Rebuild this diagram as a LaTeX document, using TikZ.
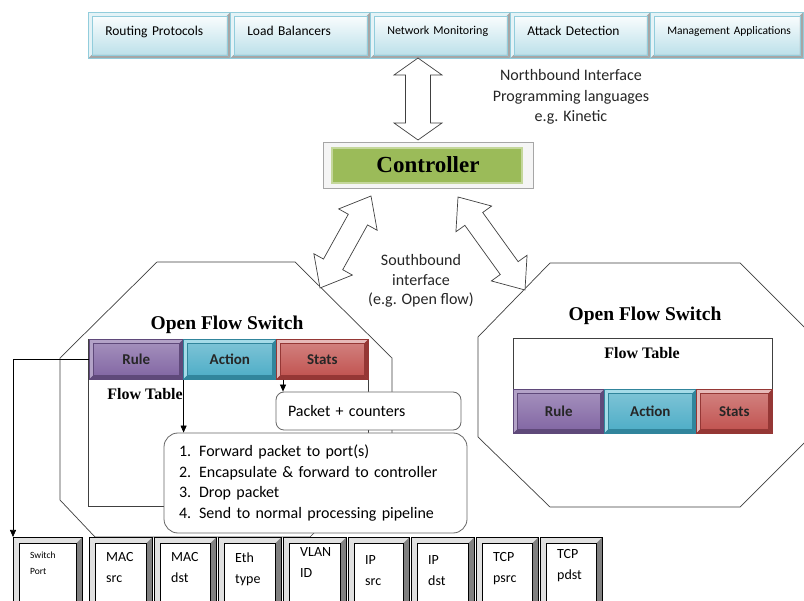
\documentclass[tikz,border=0pt]{standalone}
\usepackage{fontspec}
\setmainfont{Carlito}
\newfontfamily\tnr{Liberation Serif}
\usetikzlibrary{calc,arrows.meta}
\definecolor{rulec}{HTML}{8064A2}
\definecolor{rulel}{HTML}{B3A2C7}
\definecolor{ruled}{HTML}{5F497A}
\definecolor{actc}{HTML}{4BACC6}
\definecolor{actl}{HTML}{A5DBE8}
\definecolor{actd}{HTML}{31859C}
\definecolor{statc}{HTML}{C0504D}
\definecolor{statl}{HTML}{E6B9B8}
\definecolor{statd}{HTML}{953735}
\definecolor{tbb}{HTML}{B7DEE8}
\definecolor{tbd}{HTML}{92CDDC}
\definecolor{tbl}{HTML}{E4F3F7}
\definecolor{tbk}{HTML}{A6A6A6}
\definecolor{ctrl}{HTML}{9BBB59}
\definecolor{ctrll}{HTML}{C4D79B}
\definecolor{linec}{HTML}{404040}
\tikzset{
  bevel/.style n args={4}{path picture={
    \fill[#1] (path picture bounding box.north west) -- (path picture bounding box.north east)
      -- ([shift={(-#3,-#3)}]path picture bounding box.north east)
      -- ([shift={(#3,-#3)}]path picture bounding box.north west) -- cycle;
    \fill[#1] (path picture bounding box.north west) -- ([shift={(#3,-#3)}]path picture bounding box.north west)
      -- ([shift={(#3,#3)}]path picture bounding box.south west) -- (path picture bounding box.south west) -- cycle;
    \fill[#2] (path picture bounding box.south west) -- ([shift={(#3,#3)}]path picture bounding box.south west)
      -- ([shift={(-#3,#3)}]path picture bounding box.south east) -- (path picture bounding box.south east) -- cycle;
    \fill[#2] (path picture bounding box.south east) -- ([shift={(-#3,#3)}]path picture bounding box.south east)
      -- ([shift={(-#3,-#3)}]path picture bounding box.north east) -- (path picture bounding box.north east) -- cycle;
    \draw[#4, line width=0.5pt] ([shift={(#3,-#3)}]path picture bounding box.north west) rectangle ([shift={(-#3,#3)}]path picture bounding box.south east);
  }},
  topbox/.style={draw=tbd, line width=0.6pt, top color=white, bottom color=tbb, bevel={tbl}{tbk}{3.5pt}{tbd},
    minimum height=46pt, align=left, inner sep=0pt, anchor=north west, text depth=9pt, font=\fontsize{13.5}{15}\selectfont},
  cell/.style n args={3}{draw=#3, line width=0.6pt, top color=#1!70!white, bottom color=#1, bevel={#2}{#3}{4pt}{#3},
    inner sep=0pt, anchor=north west, font=\fontsize{15}{18}\selectfont\bfseries, text=black!85},
  key/.style={draw=black, line width=0.6pt, fill=white, bevel={black!12}{black!50}{6pt}{black},
    anchor=north west, inner sep=0pt, minimum height=80pt},
  keytext/.style={anchor=north west, align=left, inner sep=0pt, xshift=17pt, font=\fontsize{14}{21}\selectfont},
  ctrlbox/.style={draw=black!35, fill=black!4, line width=0.6pt, inner sep=0pt,
    font=\tnr\bfseries\fontsize{23}{26}\selectfont,
    path picture={\fill[ctrl, draw=ctrll, line width=1.5pt] ([shift={(9pt,-6pt)}]path picture bounding box.north west) rectangle ([shift={(-11pt,5pt)}]path picture bounding box.south east);}},
  blockarrow/.style={draw=linec, fill=white, line width=0.7pt, line join=miter},
  octo/.style={draw=linec, line width=0.7pt},
  ftable/.style={draw=linec, line width=0.7pt, anchor=north west, inner sep=0pt},
  rbox/.style={draw=linec!80, fill=white, line width=0.8pt, align=left, inner sep=0pt, font=\fontsize{16}{20.5}\selectfont},
  conn/.style={draw=black, line width=0.7pt, -{Triangle[width=6pt,length=7pt]}},
  lbl/.style={align=center, inner sep=0pt, font=\fontsize{16}{20.5}\selectfont, text=black!85},
  ofs/.style={inner sep=0pt, font=\tnr\bfseries\fontsize{19.5}{22}\selectfont},
  ftl/.style={inner sep=0pt, font=\tnr\bfseries\fontsize{16}{18}\selectfont},
}
\newcommand\dblarrow[5]{%
  \path[blockarrow] (#1)
    -- ($(#1)!#3!(#2)!#4!90:(#2)$) -- ($(#1)!#3!(#2)!#5!90:(#2)$)
    -- ($(#2)!#3!(#1)!#5!-90:(#1)$) -- ($(#2)!#3!(#1)!#4!-90:(#1)$)
    -- (#2)
    -- ($(#2)!#3!(#1)!#4!90:(#1)$) -- ($(#2)!#3!(#1)!#5!90:(#1)$)
    -- ($(#1)!#3!(#2)!#5!-90:(#2)$) -- ($(#1)!#3!(#2)!#4!-90:(#2)$) -- cycle;}
\begin{document}
\begin{tikzpicture}[x=1pt,y=-1pt]
\useasboundingbox (0,0) rectangle (804,601);
\clip (0,0) rectangle (804,601);
\fill[white] (0,0) rectangle (804,601);

% top application boxes
\node[topbox, minimum width=142pt, text width=108pt] (tb1) at (88,12) {Routing Protocols};
\node[topbox, minimum width=140pt, text width=106pt] (tb2) at (230,12) {Load Balancers};
\node[topbox, minimum width=140pt, text width=106pt, font=\fontsize{12}{14}\selectfont] (tb3) at (370,12) {Network Monitoring};
\node[topbox, minimum width=140pt, text width=106pt] (tb4) at (510,12) {Attack Detection};
\node[topbox, minimum width=153pt, text width=119pt, font=\fontsize{11.5}{13}\selectfont] (tb5) at (650,12) {\mbox{Management Applications}};

% controller
\node[ctrlbox, minimum width=210pt, minimum height=46pt] (ctrl) at (428,165) {Controller};

% northbound
\coordinate (nb1) at (418,58);
\coordinate (nb2) at (418,140);
\dblarrow{nb1}{nb2}{17pt}{24pt}{12.5pt}
\node[lbl] (nbt) at (571,97) {Northbound Interface\\Programming languages\\e.g. Kinetic};

% octagons
\draw[octo] (157,262) -- (295,262) -- (392,358) -- (392,455) -- (310,537) -- (95,537) -- (60,500) -- (60,358) -- cycle;
\draw[octo] (550,263) -- (740,263) -- (812,335) -- (812,435) -- (740,507) -- (550,507) -- (478,437) -- (478,337) -- cycle;

% southbound arrows
\coordinate (sl1) at (371,196);
\coordinate (sl2) at (320,288);
\coordinate (sr1) at (458,197);
\coordinate (sr2) at (525,290);
\dblarrow{sl1}{sl2}{27pt}{22pt}{11pt}
\dblarrow{sr1}{sr2}{27pt}{22pt}{11pt}
\node[lbl, font=\fontsize{16}{19.5}\selectfont] (sbt) at (421,281) {Southbound\\interface\\(e.g. Open flow)};

% left switch
\node[ofs] (ofs1) at (227,325) {Open Flow Switch};
\node[ftable, minimum width=280pt, minimum height=167pt] (ft1) at (88,339) {};
\node[ftl] (ftl1) at (145,394) {Flow Table};
\node[cell={rulec}{rulel}{ruled}, minimum width=94pt, minimum height=40pt] (rule1) at (89,339) {Rule};
\node[cell={actc}{actl}{actd}, minimum width=93pt, minimum height=40pt] (act1) at (183,339) {Action};
\node[cell={statc}{statl}{statd}, minimum width=92pt, minimum height=40pt] (stat1) at (276,339) {Stats};

\node[rbox, rounded corners=8pt, minimum width=185pt, minimum height=38pt, text width=161pt] (pkt) at (368.5,411) {Packet + counters};
\node[rbox, rounded corners=14pt, minimum width=303pt, minimum height=100pt, text width=273pt] (acts) at (315.5,483)
  {1. Forward packet to port(s)\\2. Encapsulate \& forward to controller\\3. Drop packet\\4. Send to normal processing pipeline};

\draw[conn] (rule1.south east) -- (rule1.south east |- acts.north);
\draw[conn] ([xshift=7pt]stat1.south west) coordinate (sa) -- (sa |- pkt.north);

% right switch
\node[ofs] (ofs2) at (645,316) {Open Flow Switch};
\node[ftable, minimum width=259pt, minimum height=95pt] (ft2) at (513,338) {};
\node[ftl] (ftl2) at (642,353) {Flow Table};
\node[cell={rulec}{rulel}{ruled}, minimum width=91pt, minimum height=44pt] (rule2) at (513,389) {Rule};
\node[cell={actc}{actl}{actd}, minimum width=92pt, minimum height=44pt] (act2) at (604,389) {Action};
\node[cell={statc}{statl}{statd}, minimum width=76pt, minimum height=44pt] (stat2) at (696,389) {Stats};

% header field keys
\node[key, minimum width=69pt, label={[keytext, yshift=-14.5pt, font=\fontsize{9.5}{16}\selectfont]north west:Switch\\Port}] (k0) at (13,537) {};
\node[key, minimum width=63pt, label={[keytext, yshift=-15.5pt]north west:MAC\\src}] (k1) at (89,537) {};
\node[key, minimum width=62pt, label={[keytext, yshift=-15.5pt]north west:MAC\\dst}] (k2) at (154,537) {};
\node[key, minimum width=63pt, label={[keytext, yshift=-15.5pt]north west:Eth\\type}] (k3) at (218,537) {};
\node[key, minimum width=63pt, label={[keytext, yshift=-10pt]north west:VLAN\\ID}] (k4) at (283,537) {};
\node[key, minimum width=61pt, label={[keytext, yshift=-18.5pt]north west:IP\\src}] (k5) at (348,537) {};
\node[key, minimum width=63pt, label={[keytext, yshift=-18.5pt]north west:IP\\dst}] (k6) at (411,537) {};
\node[key, minimum width=62pt, label={[keytext, yshift=-15.5pt]north west:TCP\\psrc}] (k7) at (476,537) {};
\node[key, minimum width=62pt, label={[keytext, yshift=-12pt]north west:TCP\\pdst}] (k8) at (540,537) {};

\draw[conn] (rule1.west) -| (k0.north west);
\end{tikzpicture}
\end{document}
